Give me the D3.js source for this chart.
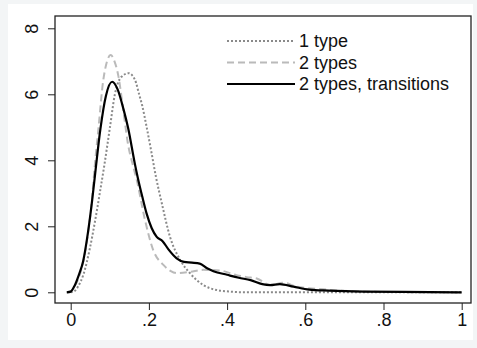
<!DOCTYPE html>
<html lang="en">
<head>
<meta charset="UTF-8">
<title>Density plot</title>
<script src="https://cdn.jsdelivr.net/npm/d3@7"></script>
<style>
    body { margin: 0; }
    .axis text {
        font-family: "Liberation Sans", Arial, sans-serif;
        font-size: 18px;
        fill: #111;
    }
    .axis line { stroke: #222; }
    .legend text {
        font-family: "Liberation Sans", Arial, sans-serif;
        font-size: 18px;
        fill: #111;
    }
</style>
</head>
<body>
<script>
    var w = 477;
    var h = 348;

    // tick labels
    var xTicks = [0, 0.2, 0.4, 0.6, 0.8, 1];
    var xTickLabels = ["0", ".2", ".4", ".6", ".8", "1"];
    var yTicks = [0, 2, 4, 6, 8];
    var yTickLabels = ["0", "2", "4", "6", "8"];

    var seriesNames = ["1 type", "2 types", "2 types, transitions"];

    // densities, [x, density]
    var oneType = [
        [0.0, 0], [0.011, 0.05], [0.02, 0.2], [0.032, 0.52], [0.049, 1.33],
        [0.062, 2.14], [0.075, 3.05], [0.086, 3.85], [0.10, 4.97], [0.113, 6.0],
        [0.13, 6.53], [0.148, 6.64], [0.164, 6.45], [0.175, 6.0], [0.183, 5.65],
        [0.194, 5.02], [0.207, 4.21], [0.218, 3.5], [0.233, 2.7], [0.254, 1.68],
        [0.28, 0.98], [0.305, 0.58], [0.339, 0.22], [0.373, 0.07], [0.41, 0.02],
        [0.45, 0], [0.7, 0], [1, 0]
    ];
    var twoTypes = [
        [-0.01, 0], [0.0, 0.03], [0.01, 0.18], [0.02, 0.42], [0.032, 0.92],
        [0.044, 1.75], [0.054, 2.75], [0.061, 3.76], [0.071, 4.97], [0.083, 6.4],
        [0.093, 7.0], [0.102, 7.19], [0.112, 7.0], [0.122, 6.55], [0.135, 5.47],
        [0.147, 4.46], [0.158, 3.9], [0.169, 3.4], [0.19, 2.19], [0.211, 1.28],
        [0.237, 0.83], [0.255, 0.65], [0.271, 0.58], [0.305, 0.62], [0.339, 0.68],
        [0.382, 0.66], [0.424, 0.52], [0.45, 0.46], [0.476, 0.42], [0.51, 0.22],
        [0.544, 0.29], [0.578, 0.17], [0.646, 0.09], [0.69, 0.05], [0.8, 0.01],
        [1, 0]
    ];
    var twoTypesTrans = [
        [-0.01, 0], [0.0, 0.02], [0.01, 0.2], [0.02, 0.5], [0.032, 0.95],
        [0.044, 1.8], [0.055, 2.8], [0.064, 3.75], [0.076, 4.95], [0.09, 5.95],
        [0.106, 6.38], [0.12, 6.15], [0.135, 5.55], [0.147, 4.97], [0.164, 3.9],
        [0.172, 3.45], [0.183, 2.9], [0.194, 2.39], [0.207, 1.95], [0.22, 1.68],
        [0.235, 1.55], [0.25, 1.3], [0.271, 1.03], [0.29, 0.92], [0.31, 0.9],
        [0.33, 0.87], [0.35, 0.72], [0.365, 0.64], [0.4, 0.53], [0.43, 0.44],
        [0.46, 0.37], [0.49, 0.25], [0.51, 0.22], [0.535, 0.25], [0.57, 0.17],
        [0.61, 0.08], [0.66, 0.05], [0.75, 0.02], [0.85, 0.01], [1, 0]
    ];

    var xScale = d3.scaleLinear().domain([0, 1]).range([70.7, 461.7]);
    var yScale = d3.scaleLinear().domain([0, 8]).range([292.3, 28.3]);

    var svg = d3.select("body")
        .append("svg")
        .attr("width", w)
        .attr("height", h);

    // outer grey band and white graph region
    svg.append("rect").attr("width", w).attr("height", h).attr("fill", "#f3f5f6");
    svg.append("rect")
        .attr("x", 8).attr("y", 4)
        .attr("width", 465).attr("height", 336)
        .attr("fill", "#fff");

    var line = d3.line()
        .x(function (d) { return xScale(d[0]); })
        .y(function (d) { return yScale(d[1]); })
        .curve(d3.curveMonotoneX);

    var styles = [
        { color: "#8a8a8a", width: 2, dash: "2,2" },
        { color: "#bababa", width: 2, dash: "7,4" },
        { color: "#000", width: 2.2, dash: null }
    ];
    var allSeries = [oneType, twoTypes, twoTypesTrans];

    // draw order: dashed, dotted, then solid on top
    [1, 0, 2].forEach(function (i) {
        svg.append("path")
            .datum(allSeries[i])
            .attr("d", line)
            .attr("fill", "none")
            .attr("stroke", styles[i].color)
            .attr("stroke-width", styles[i].width)
            .attr("stroke-dasharray", styles[i].dash)
            .attr("stroke-linejoin", "round");
    });

    // plot frame
    svg.append("rect")
        .attr("x", 55).attr("y", 16)
        .attr("width", 416).attr("height", 287)
        .attr("fill", "none")
        .attr("stroke", "#222")
        .attr("stroke-width", 1.3);

    var xAxis = d3.axisBottom(xScale)
        .tickValues(xTicks)
        .tickFormat(function (d, i) { return xTickLabels[i]; })
        .tickSize(7)
        .tickSizeOuter(0)
        .tickPadding(3);

    var gx = svg.append("g")
        .attr("class", "axis")
        .attr("transform", "translate(0,303)")
        .call(xAxis);
    gx.select(".domain").remove();

    var yAxis = d3.axisLeft(yScale)
        .tickValues(yTicks)
        .tickFormat(function (d, i) { return yTickLabels[i]; })
        .tickSize(7)
        .tickSizeOuter(0);

    var gy = svg.append("g")
        .attr("class", "axis")
        .attr("transform", "translate(55,0)")
        .call(yAxis);
    gy.select(".domain").remove();
    gy.selectAll("text")
        .attr("x", 0)
        .attr("dy", 0)
        .attr("text-anchor", "middle")
        .attr("transform", "translate(-17.5,0) rotate(-90)");

    // legend
    var legend = svg.append("g").attr("class", "legend");
    var legendY = [41, 62.5, 84];
    seriesNames.forEach(function (name, i) {
        legend.append("line")
            .attr("x1", 227).attr("x2", 295)
            .attr("y1", legendY[i]).attr("y2", legendY[i])
            .attr("stroke", styles[i].color)
            .attr("stroke-width", styles[i].width)
            .attr("stroke-dasharray", styles[i].dash);
        legend.append("text")
            .attr("x", 299)
            .attr("y", legendY[i])
            .attr("dy", "0.35em")
            .text(name);
    });
</script>
</body>
</html>
